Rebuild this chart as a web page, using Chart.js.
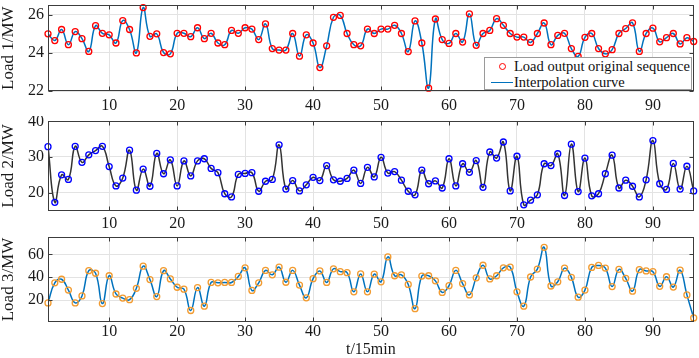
<!DOCTYPE html>
<html>
<head>
<meta charset="utf-8">
<script src="https://cdn.jsdelivr.net/npm/chart.js@4.4.0/dist/chart.umd.min.js"></script>
<style>
  body { margin: 0; background: #fff; width: 699px; height: 358px; overflow: hidden; position: relative; font-family: "Liberation Serif", serif; }
  canvas { position: absolute; left: 0; }
  #legend { position: absolute; left: 484px; top: 57px; width: 208px; height: 33px; background: #fff; border: 1px solid #9a9a9a; box-sizing: border-box; color: #111; font-size: 14.5px; }
  #legend .row { position: absolute; left: 0; white-space: nowrap; line-height: 15px; }
  #legend .mk { position: absolute; left: 14px; top: 4px; width: 5px; height: 5px; border: 1.3px solid #ff0000; border-radius: 50%; }
  #legend .ln { position: absolute; left: 6px; top: 7px; width: 22px; height: 0; border-top: 1.6px solid #0072bd; }
  #legend .tx { position: absolute; left: 29px; top: 0; }
</style>
</head>
<body>
<canvas id="c1" width="699" height="116" style="top:0px"></canvas>
<canvas id="c2" width="699" height="116" style="top:116px"></canvas>
<canvas id="c3" width="699" height="126" style="top:232px"></canvas>
<div id="legend">
  <div class="row" style="top:1px"><span class="mk"></span><span class="tx">Load output original sequence</span></div>
  <div class="row" style="top:17px"><span class="ln"></span><span class="tx">Interpolation curve</span></div>
</div>
<script>
// time index, 15 min steps
const TIME = Array.from({ length: 96 }, (_, i) => i + 1);
const X_TICKS = [10, 20, 30, 40, 50, 60, 70, 80, 90];

const LOAD1 = [
  25.0, 24.65, 25.23, 24.43, 25.12, 24.75, 24.08, 25.43, 25.03, 24.95,
  24.52, 25.7, 25.23, 24.0, 26.38, 24.87, 25.0, 24.02, 23.95, 25.03,
  25.03, 24.85, 25.32, 24.75, 25.03, 24.52, 24.43, 25.18, 25.03, 25.32,
  25.25, 24.7, 25.52, 24.23, 24.15, 24.15, 25.02, 23.83, 24.95, 24.52,
  23.23, 24.37, 25.87, 25.97, 25.02, 24.43, 24.37, 25.25, 25.02, 25.25,
  25.25, 25.45, 25.02, 24.07, 25.68, 24.52, 22.15, 25.78, 24.7, 24.5,
  25.02, 24.57, 26.05, 24.4, 25.02, 25.18, 25.8, 25.45, 25.02, 24.83,
  24.83, 24.55, 25.02, 25.57, 24.43, 24.92, 25.03, 24.23, 23.82, 24.82,
  25.02, 24.23, 23.95, 24.17, 25.02, 25.28, 25.58, 24.08, 25.02, 25.3,
  24.58, 24.8, 25.02, 24.47, 24.8, 24.6
];
const LOAD2 = [
  32.9, 17.3, 25.0, 23.7, 33.0, 28.5, 30.6, 31.8, 33.0, 27.3,
  21.9, 24.1, 31.9, 20.7, 26.6, 21.8, 31.0, 25.3, 29.2, 21.9,
  28.9, 24.7, 28.9, 29.5, 26.8, 25.6, 19.7, 18.8, 25.1, 25.4,
  25.6, 20.4, 23.2, 23.7, 33.4, 21.0, 23.4, 20.5, 22.2, 24.3,
  23.4, 27.6, 23.6, 23.2, 24.0, 26.3, 22.6, 27.1, 24.4, 29.9,
  25.5, 25.9, 23.5, 20.4, 19.4, 26.3, 22.5, 23.3, 21.3, 29.5,
  21.9, 28.1, 25.7, 29.0, 21.5, 31.4, 29.7, 34.2, 20.5, 30.2,
  16.6, 17.9, 19.4, 28.1, 27.6, 30.9, 19.2, 33.6, 20.3, 29.7,
  19.1, 19.7, 25.3, 30.5, 21.3, 23.5, 21.8, 18.8, 23.6, 34.6,
  22.5, 20.9, 28.2, 21.0, 27.4, 20.5
];
const LOAD3 = [
  17.5, 35.1, 38.2, 28.7, 17.5, 23.6, 45.7, 43.5, 16.9, 41.3,
  25.3, 21.7, 20.3, 30.3, 49.7, 37.9, 23.0, 45.7, 38.5, 31.2,
  29.5, 10.8, 30.9, 14.6, 35.4, 35.1, 35.4, 35.4, 40.7, 48.2,
  28.4, 35.1, 46.0, 42.1, 48.8, 35.6, 46.0, 33.1, 21.9, 38.7,
  45.5, 35.4, 47.4, 44.9, 44.0, 27.2, 42.9, 27.2, 42.7, 36.0,
  57.8, 41.3, 42.1, 33.7, 12.4, 41.0, 41.3, 36.8, 26.7, 32.6,
  46.0, 34.4, 24.5, 39.5, 50.5, 38.5, 41.3, 48.2, 48.8, 27.2,
  14.6, 40.2, 47.1, 66.2, 32.3, 36.0, 48.0, 39.9, 22.5, 28.7,
  48.6, 50.3, 48.0, 31.8, 46.9, 39.0, 27.8, 46.6, 45.5, 44.9,
  32.0, 40.4, 31.4, 46.3, 24.5, 4.3
];

const Y1_TICKS = [22, 24, 26];
const Y2_TICKS = [20, 30, 40];
const Y3_TICKS = [20, 40, 60];

const AXIS_COLOR = "#3c3c3c";
const GRID_COLOR = "#e3e3e3";
const TEXT_COLOR = "#1a1a1a";
const FONT = "'Liberation Serif', 'Times New Roman', serif";

// box round the plot with small inward ticks, matlab style
const framePlugin = {
  id: "frame",
  afterDraw(chart) {
    const { ctx, chartArea: a, scales } = chart;
    const l = Math.round(a.left) + 0.5, r = Math.round(a.right) - 0.5;
    const t = Math.round(a.top) + 0.5, b = Math.round(a.bottom) - 0.5;
    ctx.save();
    ctx.strokeStyle = AXIS_COLOR;
    ctx.lineWidth = 1;
    ctx.strokeRect(l, t, r - l, b - t);
    ctx.beginPath();
    scales.x.ticks.forEach((tk) => {
      const px = Math.round(scales.x.getPixelForValue(tk.value)) + 0.5;
      ctx.moveTo(px, b); ctx.lineTo(px, b - 4);
      ctx.moveTo(px, t); ctx.lineTo(px, t + 4);
    });
    scales.y.ticks.forEach((tk) => {
      const py = Math.round(scales.y.getPixelForValue(tk.value)) + 0.5;
      ctx.moveTo(l, py); ctx.lineTo(l + 4, py);
      ctx.moveTo(r, py); ctx.lineTo(r - 4, py);
    });
    ctx.stroke();
    ctx.restore();
  },
};

function makePanel(id, p) {
  return new Chart(document.getElementById(id), {
    type: "line",
    data: {
      labels: TIME,
      datasets: [
        {
          label: "Interpolation curve",
          data: p.values,
          borderColor: p.lineColor,
          borderWidth: 1.5,
          tension: 0.45,
          pointRadius: 0,
          fill: false,
          order: 2,
        },
        {
          label: "Load output original sequence",
          data: p.values,
          showLine: false,
          pointStyle: "circle",
          pointRadius: 3,
          pointBorderWidth: 1.3,
          pointBorderColor: p.markColor,
          pointBackgroundColor: "rgba(0,0,0,0)",
          clip: false,
          order: 1,
        },
      ],
    },
    options: {
      responsive: false,
      animation: false,
      events: [],
      layout: { padding: { top: p.padTop, right: 2, left: 0, bottom: 0 } },
      plugins: { legend: { display: false }, tooltip: { enabled: false } },
      scales: {
        x: {
          type: "linear",
          min: 1,
          max: 96,
          afterBuildTicks: (s) => { s.ticks = X_TICKS.map((v) => ({ value: v })); },
          afterFit: (s) => { s.height = p.xHeight; s.paddingLeft = 0; s.paddingRight = 0; },
          grid: { color: GRID_COLOR, drawTicks: false },
          border: { display: false },
          ticks: { color: TEXT_COLOR, padding: p.xPad, maxRotation: 0, font: { family: FONT, size: 16, lineHeight: 1 } },
          title: {
            display: !!p.xTitle,
            text: p.xTitle || "",
            color: TEXT_COLOR,
            padding: 0,
            font: { family: FONT, size: 16, lineHeight: 1 },
          },
        },
        y: {
          min: p.yMin,
          max: p.yMax,
          afterBuildTicks: (s) => { s.ticks = p.yTicks.map((v) => ({ value: v })); },
          afterFit: (s) => { s.width = 48; s.paddingTop = 0; s.paddingBottom = 0; },
          grid: { color: GRID_COLOR, drawTicks: false },
          border: { display: false },
          ticks: { color: TEXT_COLOR, padding: 4, font: { family: FONT, size: 16, lineHeight: 1 } },
          title: {
            display: true,
            text: p.yTitle,
            color: TEXT_COLOR,
            padding: 0,
            font: { family: FONT, size: 17, lineHeight: 1 },
          },
        },
      },
    },
    plugins: [framePlugin],
  });
}

makePanel("c1", {
  values: LOAD1, lineColor: "#0072bd", markColor: "#ff0000",
  yMin: 22, yMax: 26.5, yTicks: Y1_TICKS, yTitle: "Load 1/MW",
  padTop: 1, xHeight: 25, xPad: 7,
});
makePanel("c2", {
  values: LOAD2, lineColor: "#333333", markColor: "#0000ff",
  yMin: 15, yMax: 40, yTicks: Y2_TICKS, yTitle: "Load 2/MW",
  padTop: 3, xHeight: 21.5, xPad: 5,
});
makePanel("c3", {
  values: LOAD3, lineColor: "#0072bd", markColor: "#f29b30",
  yMin: 1, yMax: 75, yTicks: Y3_TICKS, yTitle: "Load 3/MW",
  padTop: 2, xHeight: 36.3, xPad: 2, xTitle: "t/15min",
});
</script>
</body>
</html>
